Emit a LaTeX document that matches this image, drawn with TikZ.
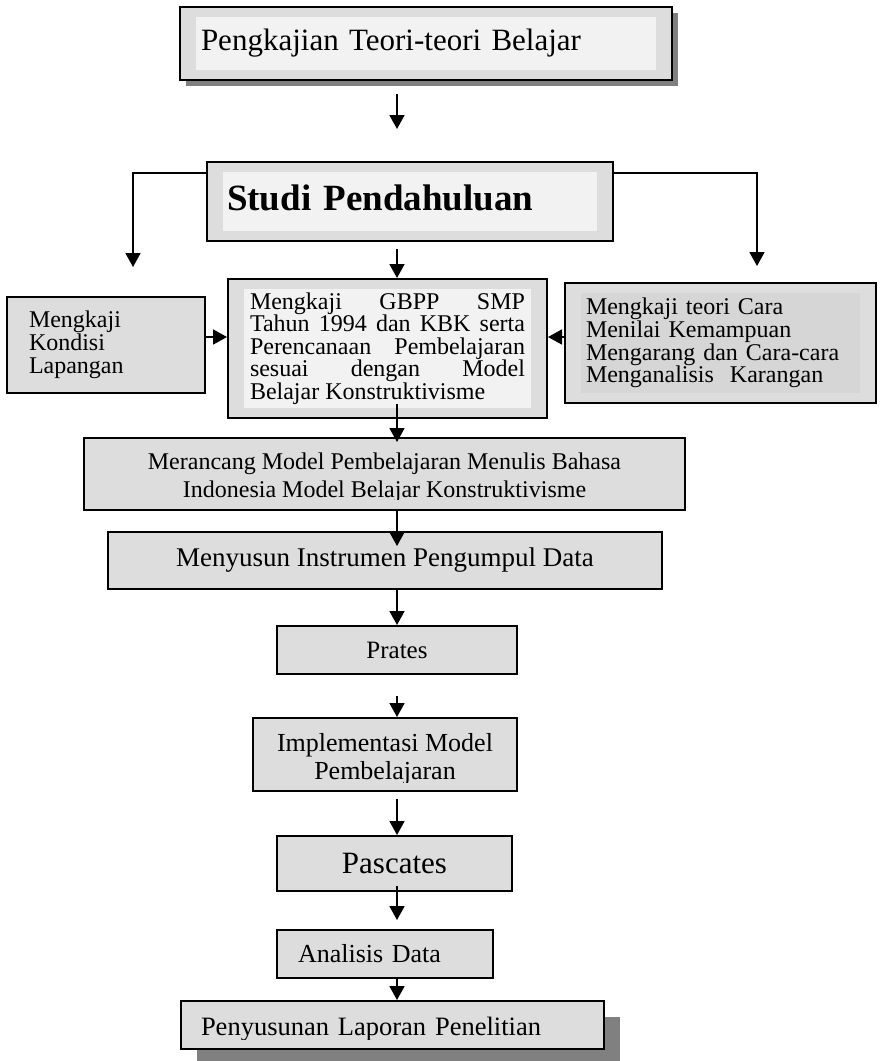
\documentclass[tikz,border=0pt]{standalone}
\usepackage{fontspec}
\setmainfont{Liberation Serif}
\usetikzlibrary{arrows.meta,shadows}
\definecolor{boxgray}{RGB}{221,221,221}
\definecolor{boxlight}{RGB}{242,242,242}
\definecolor{boxmid}{RGB}{214,214,214}
\definecolor{shadowgray}{RGB}{128,128,128}
\begin{document}
\begin{tikzpicture}[x=1pt,y=-1pt,
    box/.style={draw,line width=2pt,fill=boxgray,inner sep=0pt},
    inset/.style={path picture={\fill[#1] ([shift={(16,10)}]path picture bounding box.north west) rectangle ([shift={(-16,-10)}]path picture bounding box.south east);}},
    inset/.default=boxlight,
    boxshadow/.style={drop shadow={shadow xshift=#1,shadow yshift=-#1,fill=shadowgray,opacity=1}},
    arr/.style={line width=1.8pt,-{Triangle[length=14pt,width=15pt]}},
    fs/.style 2 args={font=\fontsize{#1}{#2}\selectfont}]
    \useasboundingbox (0,0) rectangle (879,1061);
    \coordinate (spine) at (397,0);

    \node[box,inset,boxshadow=6pt,minimum width=492pt,minimum height=73pt,text width=450pt,align=left,fs={31}{34}] (teori) at (426,43.5) {Pengkajian Teori-teori Belajar};
    \node[box,inset,minimum width=406pt,minimum height=79pt,text width=366pt,align=left,text depth=8pt,font={\fontsize{37}{40}\selectfont\bfseries}] (studi) at (410,201.5) {Studi Pendahuluan};

    \node[box,minimum width=198pt,minimum height=96pt,text width=154pt,align=left,fs={24}{23}] (kondisi) at (106,345) {Mengkaji\\Kondisi\\Lapangan};
    \node[box,inset,minimum width=319pt,minimum height=139pt,text width=275pt,align=justify,fs={24}{22.5}] (gbpp) at (387.5,348.5) {Mengkaji GBPP SMP\linebreak Tahun 1994 dan KBK serta\linebreak Perencanaan Pembelajaran\linebreak sesuai dengan Model\linebreak Belajar Konstruktivisme};
    \node[box,inset=boxmid,minimum width=311pt,minimum height=120pt,text width=269pt,align=left,fs={24}{21}] (kemampuan) at (720.5,343) {Mengkaji teori Cara\\Menilai Kemampuan\\Mengarang dan Cara-cara\\Menganalisis\ \ Karangan};

    \node[box,minimum width=601pt,minimum height=72pt] (rancang) at (384.5,474) {};
    \begin{scope}
        \clip (rancang.north west) rectangle ([yshift=11.5pt]rancang.south east);
        \node[align=center,fs={24}{28}] (rancangtxt) at ([yshift=-4pt]rancang.center) {Merancang Model Pembelajaran Menulis Bahasa\\Indonesia Model Belajar Konstruktivisme};
    \end{scope}
    \node[box,minimum width=554pt,minimum height=57pt,fs={27}{30}] (instrumen) at (385,560.5) {Menyusun Instrumen Pengumpul Data};
    \node[box,minimum width=240pt,minimum height=48pt,fs={25}{28}] (prates) at (397,650) {Prates};

    \node[box,minimum width=264pt,minimum height=73pt] (impl) at (385,754.5) {};
    \begin{scope}
        \clip (impl.north west) rectangle ([yshift=10pt]impl.south east);
        \node[align=center,fs={26}{28}] (impltxt) at ([yshift=-5pt]impl.center) {Implementasi Model\\Pembelajaran};
    \end{scope}
    \node[box,minimum width=235pt,minimum height=55pt,fs={31}{34}] (pascates) at (394.5,863.5) {Pascates};
    \node[box,minimum width=216pt,minimum height=48pt,text width=174pt,align=left,fs={26}{28}] (analisis) at (385,954) {Analisis Data};

    \node[box,boxshadow=16pt,minimum width=423pt,minimum height=48pt] (lapor) at (392.5,1025) {};
    \begin{scope}
        \clip (lapor.north west) rectangle ([yshift=11pt]lapor.south east);
        \node[text width=383pt,align=left,fs={26.5}{29}] (laportxt) at ([yshift=-4pt]lapor.center) {Penyusunan Laporan Penelitian};
    \end{scope}

    \draw[arr,shorten <=13pt,shorten >=32pt] (teori.south -| spine) -- (studi.north -| spine);
    \draw[arr,shorten >=29pt] ([yshift=28.5pt]studi.west) -| ([xshift=27pt]kondisi.north);
    \draw[arr,shorten >=16pt] ([yshift=28.5pt]studi.east) -| ([xshift=36.5pt]kemampuan.north);
    \draw[arr,shorten <=7pt] (studi.south -| spine) -- (gbpp.north -| spine);
    \draw[arr] ([yshift=8pt]kondisi.east) -- ([yshift=8pt]kondisi.east -| gbpp.west);
    \draw[arr] ([yshift=6pt]kemampuan.west) -- ([yshift=6pt]kemampuan.west -| gbpp.east);
    \draw[arr,shorten <=-15pt,shorten >=-5pt] (gbpp.south -| spine) -- (rancang.north -| spine);
    \draw[arr,shorten >=-15pt] (rancang.south -| spine) -- (instrumen.north -| spine);
    \draw[arr] (instrumen.south -| spine) -- (prates.north -| spine);
    \draw[arr,shorten <=21pt] (prates.south -| spine) -- (impl.north -| spine);
    \draw[arr,shorten <=7pt] (impl.south -| spine) -- (pascates.north -| spine);
    \draw[arr,shorten <=-6pt,shorten >=9pt] (pascates.south -| spine) -- (analisis.north -| spine);
    \draw[arr,shorten <=-2pt] (analisis.south -| spine) -- (lapor.north -| spine);
\end{tikzpicture}
\end{document}
